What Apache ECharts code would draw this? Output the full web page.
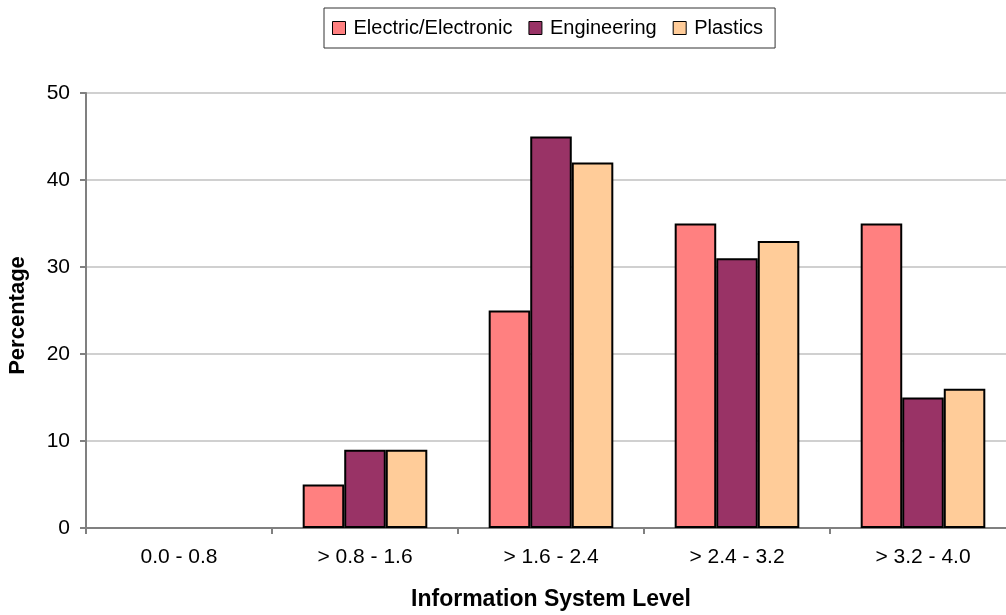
<!DOCTYPE html>
<html>
<head>
<meta charset="utf-8">
<script src="https://cdn.jsdelivr.net/npm/echarts@6/dist/echarts.min.js"></script>
<style>
  html, body { margin: 0; padding: 0; background: #fff; }
  #chart { width: 1006px; height: 615px; }
</style>
</head>
<body>
<div id="chart"></div>
<script>
// Share of companies by information system level, per industry
const levels = ['0.0 - 0.8', '> 0.8 - 1.6', '> 1.6 - 2.4', '> 2.4 - 3.2', '> 3.2 - 4.0'];
const electric = [0, 5, 25, 35, 35];
const engineering = [0, 9, 45, 31, 15];
const plastics = [0, 9, 42, 33, 16];
const seriesNames = ['Electric/Electronic', 'Engineering', 'Plastics'];
const seriesColors = ['#FF8080', '#993366', '#FFCC99'];
const yTicks = [0, 10, 20, 30, 40, 50];

const font = 'Liberation Sans, Arial, sans-serif';

// zero shares get no bar at all (no outline along the axis)
function barSeries(name, data, color) {
  return {
    name: name,
    type: 'bar',
    data: data.map(v => (v === 0 ? '-' : v)),
    barGap: '0%',
    barCategoryGap: '33%',
    itemStyle: { color: color, borderColor: '#000', borderWidth: 2 }
  };
}

const chart = echarts.init(document.getElementById('chart'), null, { renderer: 'canvas' });
chart.setOption({
  animation: false,
  backgroundColor: '#fff',
  textStyle: { fontFamily: font },
  legend: {
    left: 324,
    top: 8,
    data: seriesNames,
    icon: 'rect',
    itemWidth: 13,
    itemHeight: 13,
    itemGap: 16,
    padding: [10, 12, 10, 8],
    borderColor: '#333',
    borderWidth: 1,
    backgroundColor: '#fff',
    itemStyle: { borderColor: '#000', borderWidth: 1 },
    textStyle: { fontSize: 20, color: '#000', fontFamily: font, padding: [0, 0, 0, 3] }
  },
  // the plot runs slightly past the right edge of the canvas
  grid: { left: 86, width: 930, top: 93, bottom: 87, containLabel: false, outerBoundsMode: 'none' },
  xAxis: {
    type: 'category',
    data: levels,
    name: 'Information System Level',
    nameLocation: 'middle',
    nameGap: 60,
    nameTextStyle: { fontSize: 23, fontWeight: 'bold', color: '#000', fontFamily: font },
    axisLine: { lineStyle: { color: '#808080', width: 2 } },
    axisTick: { show: true, length: 6, lineStyle: { color: '#808080', width: 2 } },
    axisLabel: { fontSize: 21, color: '#000', margin: 19, fontFamily: font },
    splitLine: { show: false }
  },
  yAxis: {
    type: 'value',
    min: yTicks[0],
    max: yTicks[yTicks.length - 1],
    interval: 10,
    name: 'Percentage',
    nameLocation: 'middle',
    nameGap: 57,
    nameTextStyle: { fontSize: 22, fontWeight: 'bold', color: '#000', fontFamily: font, padding: [0, 10, 0, 0] },
    axisLine: { show: true, lineStyle: { color: '#808080', width: 2 } },
    axisTick: { show: true, length: 6, lineStyle: { color: '#808080', width: 2 } },
    axisLabel: { fontSize: 21, color: '#000', margin: 16, fontFamily: font },
    splitLine: { show: true, lineStyle: { color: '#C0C0C0', width: 1.5 } }
  },
  series: [
    barSeries(seriesNames[0], electric, seriesColors[0]),
    barSeries(seriesNames[1], engineering, seriesColors[1]),
    barSeries(seriesNames[2], plastics, seriesColors[2])
  ]
});
</script>
</body>
</html>
